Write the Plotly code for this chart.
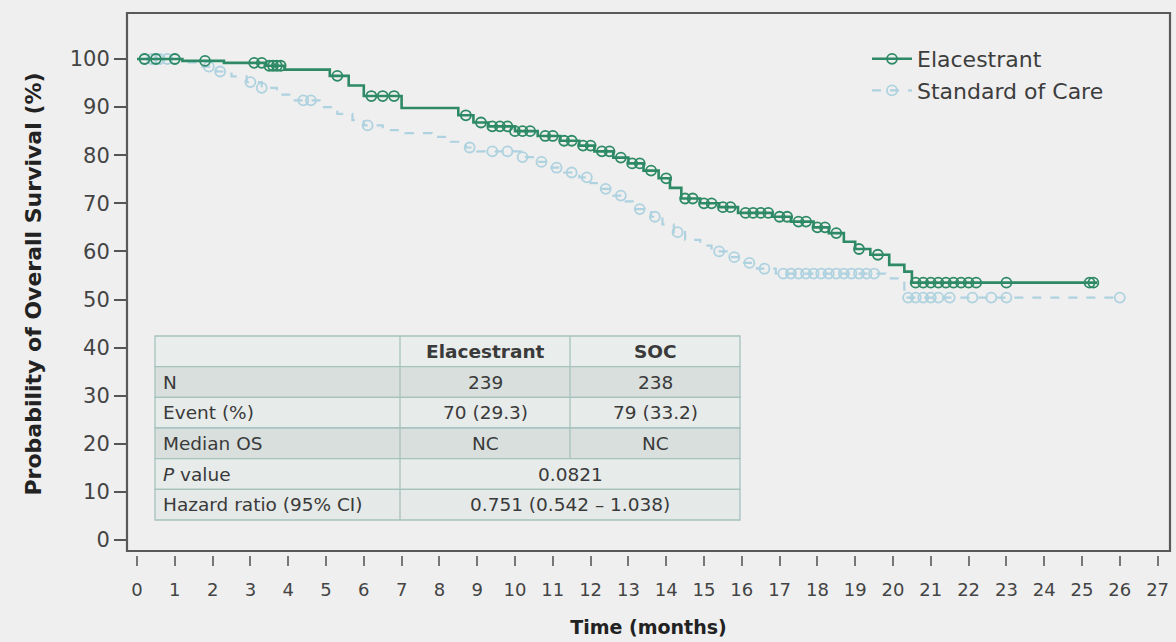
import numpy as np
import plotly.graph_objects as go

# ---------------- data ----------------
ela_t = [0, 1.2, 2.3, 3.4, 3.9, 5.1, 5.6, 6.0, 7.0, 8.5, 8.9, 9.3, 10.0, 10.6, 11.2, 11.7,
         12.1, 12.6, 13.0, 13.4, 13.8, 14.1, 14.4, 14.9, 15.4, 15.9, 16.8, 17.3, 17.9, 18.3,
         18.7, 19.0, 19.4, 19.9, 20.3, 20.5]
ela_s = [100, 99.6, 99.2, 98.6, 97.8, 96.5, 94.5, 92.3, 89.8, 88.3, 86.8, 86.0, 85.0, 84.0,
         83.0, 82.0, 80.8, 79.5, 78.3, 76.8, 75.2, 73.2, 71.0, 70.0, 69.2, 68.0, 67.2, 66.2,
         65.0, 63.8, 62.0, 60.5, 59.3, 57.2, 55.8, 53.5]
ela_end = 25.4
ela_cens = [0.2, 0.5, 1.0, 1.8, 3.1, 3.3, 3.5, 3.6, 3.7, 3.8, 5.3, 6.2, 6.5, 6.8, 8.7, 9.1,
            9.4, 9.6, 9.8, 10.0, 10.2, 10.4, 10.8, 11.0, 11.3, 11.5, 11.8, 12.0, 12.3, 12.5,
            12.8, 13.1, 13.3, 13.6, 14.0, 14.5, 14.7, 15.0, 15.2, 15.5, 15.7, 16.1, 16.3,
            16.5, 16.7, 17.0, 17.2, 17.5, 17.7, 18.0, 18.2, 18.5, 19.1, 19.6, 20.6, 20.8,
            21.0, 21.2, 21.4, 21.6, 21.8, 22.0, 22.2, 23.0, 25.2, 25.3]

soc_t = [0, 1.3, 1.7, 2.1, 2.5, 2.9, 3.3, 3.7, 4.1, 4.9, 5.3, 5.7, 6.0, 6.5, 7.1, 7.8, 8.3,
         8.7, 9.0, 10.2, 10.5, 10.9, 11.3, 11.7, 12.0, 12.3, 12.6, 12.9, 13.2, 13.6, 13.9,
         14.2, 14.5, 14.9, 15.2, 15.6, 16.0, 16.4, 16.9, 19.8, 20.3]
soc_s = [100, 99.3, 98.4, 97.4, 96.4, 95.2, 94.0, 92.6, 91.4, 90.0, 88.6, 87.3, 86.2, 85.2,
         84.6, 83.8, 82.8, 81.6, 80.8, 79.6, 78.6, 77.4, 76.4, 75.4, 74.2, 73.0, 71.6, 70.4,
         68.8, 67.2, 65.6, 64.0, 62.4, 61.2, 60.0, 58.8, 57.6, 56.4, 55.4, 54.4, 50.4]
soc_end = 26.0
soc_cens = [0.2, 0.4, 0.6, 0.8, 1.0, 1.9, 2.2, 3.0, 3.3, 4.4, 4.6, 6.1, 8.8, 9.4, 9.8, 10.2,
            10.7, 11.1, 11.5, 11.9, 12.4, 12.8, 13.3, 13.7, 14.3, 15.4, 15.8, 16.2, 16.6,
            17.1, 17.3, 17.5, 17.7, 17.9, 18.1, 18.3, 18.5, 18.7, 18.9, 19.1, 19.3, 19.5,
            20.4, 20.6, 20.8, 21.0, 21.2, 21.5, 22.1, 22.6, 23.0, 26.0]

x_ticks = list(range(0, 28))
y_ticks = list(range(0, 101, 10))

series_names = ["Elacestrant", "Standard of Care"]

table_header = ["", "Elacestrant", "SOC"]
table_rows = [
    ["N", "239", "238"],
    ["Event (%)", "70 (29.3)", "79 (33.2)"],
    ["Median OS", "NC", "NC"],
    ["<i>P</i> value", "0.0821", None],
    ["Hazard ratio (95% CI)", "0.751 (0.542 \u2013 1.038)", None],
]

# ---------------- styling ----------------
W, H = 1176, 642
ML, MR, MT, MB = 127, 6, 13, 87
PW, PH = W - ML - MR, H - MT - MB
GREEN = "#2e8a66"
BLUE = "#aed2df"
BG = "#efefef"
FONT = "DejaVu Sans"


def px_x(px):
    return (px - ML) / PW


def px_y(py):
    return (H - MB - py) / PH


def step_value(times, surv, t):
    i = np.searchsorted(np.array(times), t, side="right") - 1
    return surv[max(i, 0)]


fig = go.Figure()


def add_arm(times, surv, end, cens, color, dash, width, name, rank):
    xs = list(times) + [end]
    ys = list(surv) + [surv[-1]]
    fig.add_trace(go.Scatter(x=xs, y=ys, mode="lines", line=dict(color=color, width=width, dash=dash, shape="hv"),
                             showlegend=False, hoverinfo="skip"))
    cy = [step_value(times, surv, c) for c in cens]
    fig.add_trace(go.Scatter(x=cens, y=cy, mode="markers",
                             marker=dict(symbol="circle-open", size=10, color=color, line=dict(width=1.8, color=color)),
                             showlegend=False, hoverinfo="skip"))
    fig.add_trace(go.Scatter(x=[None], y=[None], mode="lines+markers", name=name, legendrank=rank,
                             line=dict(color=color, width=width, dash=dash),
                             marker=dict(symbol="circle-open", size=10, color=color, line=dict(width=1.8, color=color))))


add_arm(soc_t, soc_s, soc_end, soc_cens, BLUE, "dash", 2.2, series_names[1], 2)
add_arm(ela_t, ela_s, ela_end, ela_cens, GREEN, "solid", 2.6, series_names[0], 1)

shapes = []
annotations = []

# frame
shapes.append(dict(type="rect", xref="paper", yref="paper", x0=0, x1=1, y0=px_y(551), y1=1,
                   line=dict(color="#595959", width=2.2), layer="above"))

# table
tx0, tx1, tx2, tx3 = 155, 400, 570, 740
ty_top, ty_bot = 336, 520
nrows = 1 + len(table_rows)
rh = (ty_bot - ty_top) / nrows
fills = ["#e9edeb", "#d9dfdd", "#e7ebe9", "#d9dfdd", "#e7ebe9", "#e5e9e7"]
BORDER = "#a6c2bd"
for r in range(nrows):
    y0 = ty_top + r * rh
    y1 = y0 + rh
    shapes.append(dict(type="rect", xref="paper", yref="paper", x0=px_x(tx0), x1=px_x(tx3),
                       y0=px_y(y1), y1=px_y(y0), fillcolor=fills[r], line=dict(color=BORDER, width=1.3),
                       layer="above"))
    row = table_header if r == 0 else table_rows[r - 1]
    merged = row[2] is None
    shapes.append(dict(type="line", xref="paper", yref="paper", x0=px_x(tx1), x1=px_x(tx1),
                       y0=px_y(y1), y1=px_y(y0), line=dict(color=BORDER, width=1.3), layer="above"))
    if not merged:
        shapes.append(dict(type="line", xref="paper", yref="paper", x0=px_x(tx2), x1=px_x(tx2),
                           y0=px_y(y1), y1=px_y(y0), line=dict(color=BORDER, width=1.3), layer="above"))
    yc = px_y((y0 + y1) / 2)
    bold = r == 0
    fnt = dict(family=FONT, size=18.5, color="#3a3a3a")
    if row[0]:
        annotations.append(dict(xref="paper", yref="paper", x=px_x(tx0 + 6), y=yc, text=row[0],
                                showarrow=False, xanchor="left", yanchor="middle", font=fnt))
    if merged:
        annotations.append(dict(xref="paper", yref="paper", x=px_x((tx1 + tx3) / 2), y=yc, text=row[1],
                                showarrow=False, xanchor="center", yanchor="middle", font=fnt))
    else:
        for c, (a, b) in zip(row[1:], [(tx1, tx2), (tx2, tx3)]):
            annotations.append(dict(xref="paper", yref="paper", x=px_x((a + b) / 2), y=yc,
                                    text=f"<b>{c}</b>" if bold else c,
                                    showarrow=False, xanchor="center", yanchor="middle", font=fnt))

fig.update_layout(
    width=W, height=H,
    margin=dict(l=ML, r=MR, t=MT, b=MB),
    paper_bgcolor=BG, plot_bgcolor=BG,
    font=dict(family=FONT, color="#444"),
    shapes=shapes, annotations=annotations,
    showlegend=True,
    legend=dict(x=px_x(867), y=px_y(38), xanchor="left", yanchor="top", bgcolor="rgba(0,0,0,0)",
                font=dict(family=FONT, size=22, color="#3d3d3d"), tracegroupgap=0, itemwidth=40),
    xaxis=dict(range=[(ML - 137) / 37.8, (W - MR - 137) / 37.8], tickvals=x_ticks, showgrid=False,
               zeroline=False, showline=False, ticks="outside", ticklen=10, tickwidth=1.5, tickcolor="#777",
               ticklabelstandoff=8,
               tickfont=dict(family=FONT, size=18, color="#444"),
               title=dict(text="<b>Time (months)</b>", font=dict(family=FONT, size=19, color="#222"), standoff=22)),
    yaxis=dict(range=[(540 - (H - MB)) / 4.81, (540 - MT) / 4.81], tickvals=y_ticks, showgrid=False,
               zeroline=False, showline=False, ticks="outside", ticklen=12, tickwidth=1.5, tickcolor="#555",
               tickfont=dict(family=FONT, size=21, color="#444"),
               title=dict(text="<b>Probability of Overall Survival (%)</b>",
                          font=dict(family=FONT, size=22, color="#222"), standoff=22)),
)

fig.write_html("out.html", config={"displayModeBar": False},
               post_script="document.body.style.margin='0';document.body.style.background='#efefef';")
